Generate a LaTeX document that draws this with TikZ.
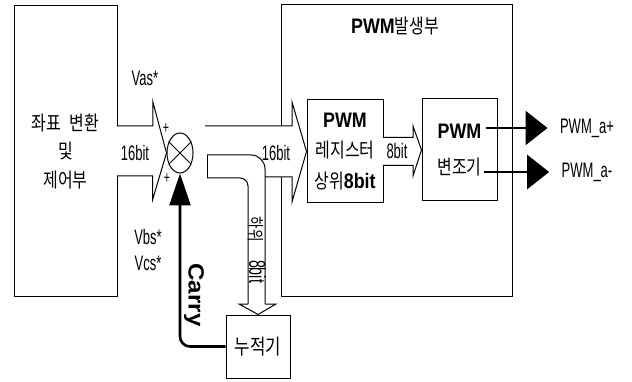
\documentclass[tikz,border=0pt]{standalone}
\usepackage{fontspec}
\setmainfont{Liberation Sans}[FakeStretch=0.62,BoldFeatures={FakeStretch=0.85}]
\newfontfamily\kr{Noto Sans CJK KR}[FakeStretch=0.8]
\newfontfamily\carryfont{Liberation Sans}[FakeStretch=1.1]
\usetikzlibrary{arrows.meta,shapes.geometric,calc}
\tikzset{
    blockbox/.style={
        draw, line width=1pt, inner sep=0pt, align=center
    },
    fatarrow/.style={
        draw, fill=white, line width=1pt, line join=miter
    },
    heavyline/.style={
        line width=2.6pt
    }
}

\begin{document}
\begin{tikzpicture}[x=1pt, y=-1pt, every node/.style={font=\fontsize{21}{24}\selectfont}]
    \useasboundingbox (0,0) rectangle (632,382);
    % blocks
    \node[blockbox, minimum width=103, minimum height=290, font=\kr\fontsize{20}{28.5}\selectfont] (ctrl) at (65.5,151) {좌표\hspace{9pt}변환\\및\\제어부};
    \node[blockbox, minimum width=231, minimum height=291] (gen) at (396.5,150.5) {};
    \node (gentitle) at (395,26) {\textbf{PWM}{\kr\fontsize{20}{24}\selectfont 발생부}};
    \node[blockbox, minimum width=76, minimum height=103, font=\fontsize{21}{30.5}\selectfont] (reg) at (345,151.5) {\textbf{PWM}\\{\kr\fontsize{20}{30.5}\selectfont 레지스터}\\{\kr\fontsize{20}{30.5}\selectfont 상위}\textbf{8bit}};
    \node[blockbox, minimum width=75, minimum height=102, font=\fontsize{21}{36}\selectfont] (mod) at (459.5,150) {\textbf{PWM}\\{\kr\fontsize{20}{36}\selectfont 변조기}};
    \node[blockbox, minimum width=64, minimum height=63, font=\kr\fontsize{21}{24}\selectfont] (acc) at (258,346.5) {누적기};
    \node[draw, ellipse, line width=1pt, minimum width=26, minimum height=40, inner sep=0pt] (sum) at (180,153) {};
    \draw[line width=1pt] (sum.135) -- (sum.-45) (sum.45) -- (sum.-135);

    % wide arrows
    \filldraw[fatarrow] ($(ctrl.east)+(-0.6,-25)$) -- ++(36,0) -- ++(0,-24) -- (sum.west)
        -- ($(ctrl.east)+(35,49)$) -- ++(0,-24) -- ($(ctrl.east)+(-0.6,25)$);
    \filldraw[fatarrow] (205,126) -- (292,126) -- (292,102) -- (reg.west) -- (292,202) -- (292,177) -- (265,177);
    \filldraw[fatarrow] ($(reg.east)+(-0.6,-14)$) -- (413,137.5) -- (413,126) -- (mod.west)
        -- (413,176) -- (413,165.5) -- ($(reg.east)+(-0.6,14)$);
    \draw[line width=1pt] (207,178) -- (207,155);
    \draw[line width=1pt, rounded corners=14] (207,155) -- (265,155) -- (265,304);
    \draw[line width=1pt, rounded corners=8] (207,178) -- (248,178) -- (248,304);
    \draw[line width=1pt, line join=miter] (248,304) -- (239,304) -- (acc.north) -- (276,304) -- (265,304);

    % labels
    \node (vas) at (145,78) {Vas*};
    \node (vbs) at (148,237) {Vbs*};
    \node (vcs) at (148,263) {Vcs*};
    \node[font=\fontsize{17}{17}\selectfont] (plusa) at (166,129) {+};
    \node[font=\fontsize{17}{17}\selectfont] (plusb) at (167,179) {+};
    \node (bitl) at (135,153) {16bit};
    \node (bitr) at (276,153) {16bit};
    \node (bitm) at (397,151) {8bit};
    \node[rotate=-90] (low) at (257,250) {{\kr\fontsize{17}{20}\selectfont 하위}\hspace{18pt}{\fontsize{23}{24}\selectfont 8bit}};
    \node[rotate=-90, font=\carryfont\bfseries\fontsize{22}{22}\selectfont] (carry) at (194,295) {Carry};

    % carry and outputs
    \draw[heavyline, rounded corners=10, -{Triangle[length=32pt,width=21pt]}] (acc.west) -| (sum.south);
    \node (aplus) at (587,128) {PWM\_a+};
    \node (aminus) at (587,172) {PWM\_a-};
    \draw[heavyline, -{Triangle[length=22pt,width=34pt]}] ($(mod.east |- aplus.west)+(-12,0)$) -- ($(aplus.west)+(-9,0)$);
    \draw[heavyline, -{Triangle[length=22pt,width=34pt]}] ($(mod.east |- aminus.west)+(-14,0)$) -- ($(aminus.west)+(-9,0)$);
\end{tikzpicture}
\end{document}
